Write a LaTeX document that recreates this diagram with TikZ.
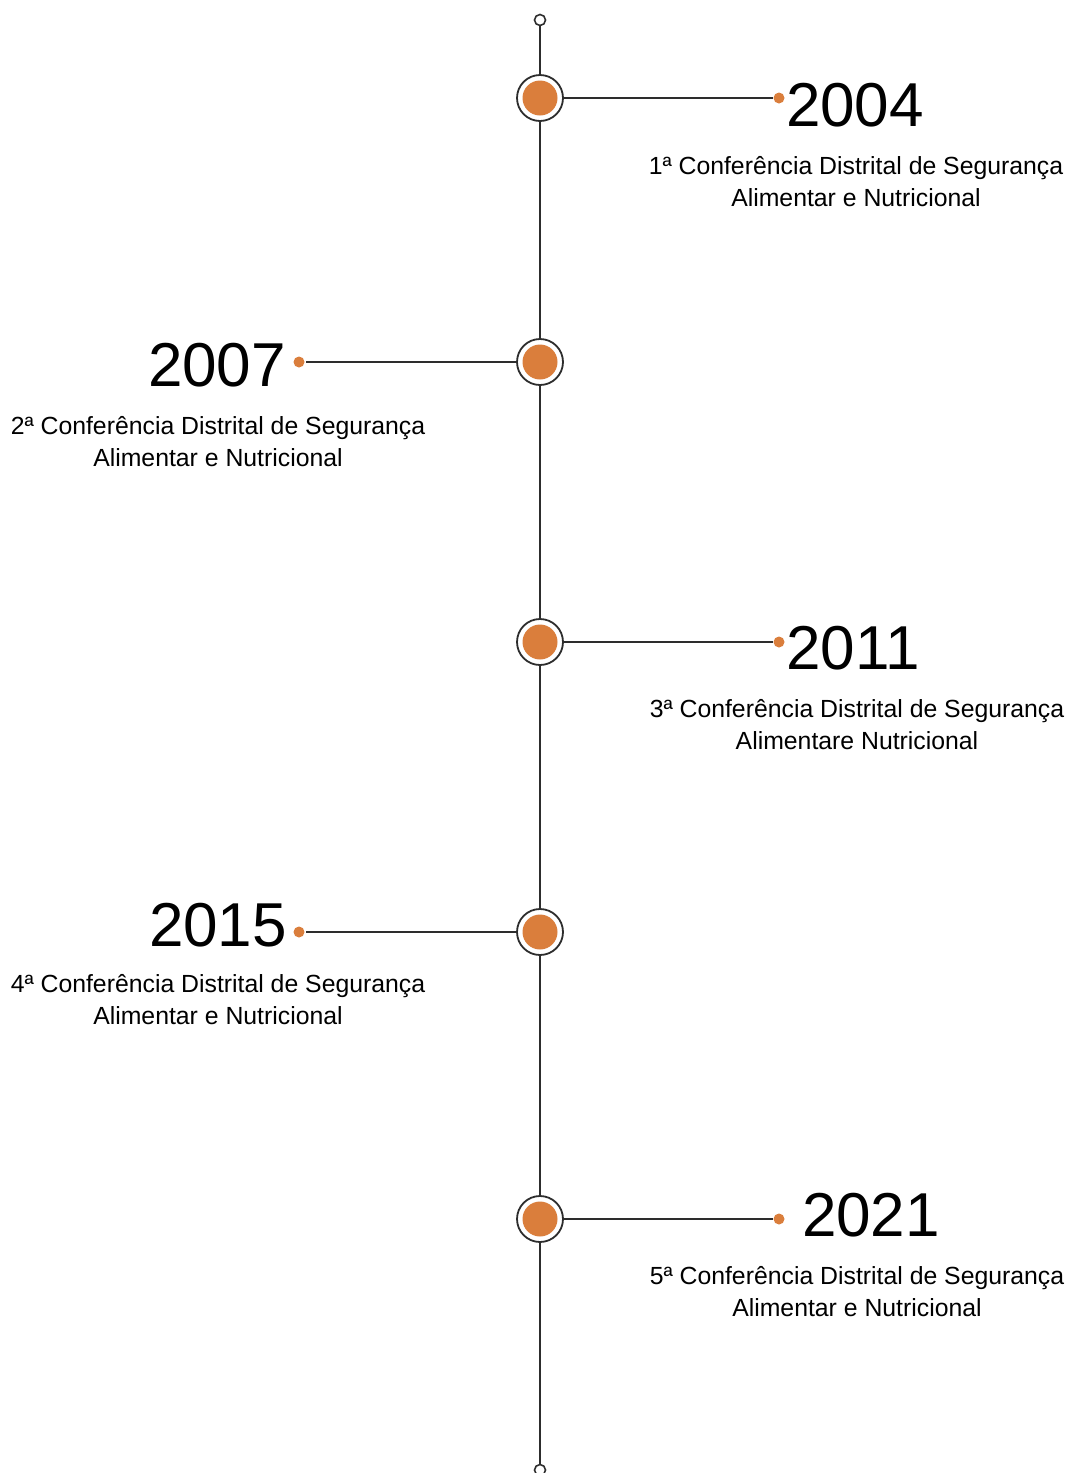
\documentclass[tikz,border=0pt]{standalone}
\usepackage{fontspec}
\setmainfont{Liberation Sans}
\usepackage{tikz}
\usetikzlibrary{calc}
\usepackage{xcolor}
\definecolor{marco}{RGB}{218,126,60}
\definecolor{traco}{RGB}{45,45,45}

\tikzset{
  ring/.style={circle, draw=traco, fill=white, line width=0.9pt, minimum size=23pt, inner sep=0pt},
  miolo/.style={circle, fill=marco, minimum size=17.5pt, inner sep=0pt},
  ponta/.style={circle, fill=marco, minimum size=5.5pt, inner sep=0pt},
  fim/.style={circle, draw=traco, fill=white, line width=0.8pt, minimum size=5.5pt, inner sep=0pt},
  ano/.style={inner sep=0pt, font=\fontsize{31}{34}\selectfont},
  desc/.style={align=center, inner sep=0pt, font=\fontsize{12.4}{16}\selectfont}
}

\begin{document}
\begin{tikzpicture}[x=0.5pt, y=-0.5pt, line width=1pt, draw=traco]
\useasboundingbox (0,0) rectangle (1070,1473);
% eixo
\node [fim] (top) at (540,20) {};
\node [fim] (bot) at (540,1470) {};
\node [ring] (c1) at (540,98) {};
\node [ring] (c2) at (540,362) {};
\node [ring] (c3) at (540,642) {};
\node [ring] (c4) at (540,932) {};
\node [ring] (c5) at (540,1219) {};
\draw [traco] (top) -- (c1) -- (c2) -- (c3) -- (c4) -- (c5) -- (bot);
\foreach \c in {c1,c2,c3,c4,c5} \node [miolo] at (\c) {};
% ramos
\node [ponta] (p1) at (779,98) {};
\node [ponta] (p2) at (299,362) {};
\node [ponta] (p3) at (779,642) {};
\node [ponta] (p4) at (299,932) {};
\node [ponta] (p5) at (779,1219) {};
\draw [traco] (c1) -- (p1);
\draw [traco] (c2) -- (p2);
\draw [traco] (c3) -- (p3);
\draw [traco] (c4) -- (p4);
\draw [traco] (c5) -- (p5);
% anos
\node [ano] (a1) at (855,105) {2004};
\node [ano] (a2) at (217,365) {2007};
\node [ano] (a3) at (853,648) {2011};
\node [ano] (a4) at (218,925) {2015};
\node [ano] (a5) at (871,1215) {2021};
% textos
\node [desc] (d1) at (856,182) {1ª Conferência Distrital de Segurança\\Alimentar e Nutricional};
\node [desc] (d2) at (218,442) {2ª Conferência Distrital de Segurança\\Alimentar e Nutricional};
\node [desc] (d3) at (857,725) {3ª Conferência Distrital de Segurança\\Alimentare Nutricional};
\node [desc] (d4) at (218,1000) {4ª Conferência Distrital de Segurança\\Alimentar e Nutricional};
\node [desc] (d5) at (857,1292) {5ª Conferência Distrital de Segurança\\Alimentar e Nutricional};
\end{tikzpicture}
\end{document}
